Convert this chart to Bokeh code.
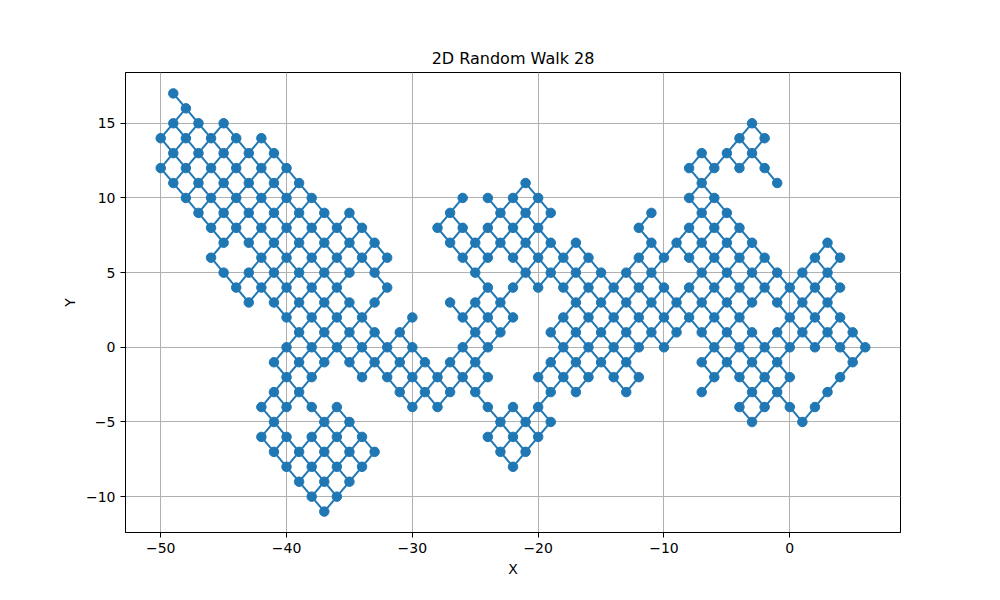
from bokeh.plotting import figure
from bokeh.models import Range1d, FixedTicker
from bokeh.embed import file_html
from bokeh.resources import INLINE

# visited lattice points of the walk, one list of x values per y level
row_p17 = [-49]
row_p16 = [-48]
row_p15 = [-49, -47, -45, -3]
row_p14 = [-50, -48, -46, -44, -42, -4, -2]
row_p13 = [-49, -47, -45, -43, -41, -7, -5, -3]
row_p12 = [-50, -48, -46, -44, -42, -40, -8, -6, -4, -2]
row_p11 = [-49, -47, -45, -43, -41, -39, -21, -7, -1]
row_p10 = [-48, -46, -44, -42, -40, -38, -26, -24, -22, -20, -8, -6]
row_p9 = [-47, -45, -43, -41, -39, -37, -35, -27, -23, -21, -19, -11, -7, -5]
row_p8 = [-46, -44, -42, -40, -38, -36, -34, -28, -26, -24, -22, -20, -12, -8, -6, -4]
row_p7 = [-45, -43, -41, -39, -37, -35, -33, -27, -25, -23, -21, -19, -17, -11, -9, -7, -5, -3, 3]
row_p6 = [-46, -42, -40, -38, -36, -34, -32, -26, -24, -22, -20, -18, -16, -12, -10, -8, -6, -4, -2, 2, 4]
row_p5 = [-45, -43, -41, -39, -37, -35, -33, -25, -21, -19, -17, -15, -13, -11, -7, -5, -3, -1, 1, 3]
row_p4 = [-44, -42, -40, -38, -36, -32, -24, -22, -20, -18, -16, -14, -12, -10, -8, -6, -4, -2, 0, 2, 4]
row_p3 = [-43, -41, -39, -37, -35, -33, -27, -25, -23, -17, -15, -13, -11, -9, -7, -5, -3, -1, 1, 3]
row_p2 = [-40, -38, -36, -34, -30, -26, -24, -22, -18, -16, -14, -12, -10, -8, -6, -4, 0, 2, 4]
row_p1 = [-39, -37, -35, -33, -31, -25, -23, -19, -17, -15, -13, -11, -9, -7, -5, -3, -1, 1, 3, 5]
row_0 = [-40, -38, -36, -34, -32, -30, -26, -24, -18, -16, -14, -12, -10, -6, -4, -2, 0, 2, 4, 6]
row_m1 = [-41, -39, -37, -35, -33, -31, -29, -27, -25, -19, -17, -15, -13, -7, -5, -3, -1, 5]
row_m2 = [-40, -38, -34, -32, -30, -28, -26, -24, -20, -18, -16, -14, -12, -6, -4, -2, 0, 4]
row_m3 = [-41, -39, -31, -29, -27, -25, -19, -17, -13, -7, -3, -1, 3]
row_m4 = [-42, -40, -38, -36, -30, -28, -24, -22, -20, -4, -2, 0, 2]
row_m5 = [-41, -37, -35, -23, -21, -19, -3, 1]
row_m6 = [-42, -40, -38, -36, -34, -24, -22, -20]
row_m7 = [-41, -39, -37, -35, -33, -23, -21]
row_m8 = [-40, -38, -36, -34, -22]
row_m9 = [-39, -37, -35]
row_m10 = [-38, -36]
row_m11 = [-37]

row_levels = list(range(17, -12, -1))
rows = [row_p17, row_p16, row_p15, row_p14, row_p13, row_p12, row_p11, row_p10,
        row_p9, row_p8, row_p7, row_p6, row_p5, row_p4, row_p3, row_p2, row_p1,
        row_0, row_m1, row_m2, row_m3, row_m4, row_m5, row_m6, row_m7, row_m8,
        row_m9, row_m10, row_m11]

x_ticks = [-50, -40, -30, -20, -10, 0]
x_tick_labels = ["\u221250", "\u221240", "\u221230", "\u221220", "\u221210", "0"]
y_ticks = [-10, -5, 0, 5, 10, 15]
y_tick_labels = ["\u221210", "\u22125", "0", "5", "10", "15"]

pts_x, pts_y = [], []
for yv, xs in zip(row_levels, rows):
    for xv in xs:
        pts_x.append(xv)
        pts_y.append(yv)

# steps of the walk: diagonal neighbours among the visited points
visited = set(zip(pts_x, pts_y))
sx0, sy0, sx1, sy1 = [], [], [], []
for a, b in sorted(visited):
    for db in (1, -1):
        if (a + 1, b + db) in visited:
            sx0.append(a)
            sy0.append(b)
            sx1.append(a + 1)
            sy1.append(b + db)

blue = "#1f77b4"
font = "DejaVu Sans"

p = figure(width=984, height=584, output_backend="svg", toolbar_location=None,
           x_range=Range1d(-52.8, 8.8), y_range=Range1d(-12.4, 18.4),
           min_border_left=125, min_border_right=84,
           min_border_top=72, min_border_bottom=52)

p.segment(sx0, sy0, sx1, sy1, line_color=blue, line_width=2)
p.scatter(pts_x, pts_y, size=9.5, color=blue)

p.title.text = "2D Random Walk 28"
p.title.align = "center"
p.title.text_font = font
p.title.text_font_size = "16px"
p.title.text_font_style = "normal"
p.title.text_color = "black"

p.xaxis.axis_label = "X"
p.yaxis.axis_label = "Y"
p.xaxis.ticker = FixedTicker(ticks=x_ticks)
p.yaxis.ticker = FixedTicker(ticks=y_ticks)
p.xaxis.major_label_overrides = dict(zip(x_ticks, x_tick_labels))
p.yaxis.major_label_overrides = dict(zip(y_ticks, y_tick_labels))

for ax in (p.xaxis, p.yaxis):
    ax.axis_label_text_font = font
    ax.axis_label_text_font_size = "14px"
    ax.axis_label_text_font_style = "normal"
    ax.axis_label_text_color = "black"
    ax.major_label_text_font = font
    ax.major_label_text_font_size = "14px"
    ax.major_label_text_color = "black"
    ax.axis_line_color = "black"
    ax.major_tick_line_color = "black"
    ax.major_tick_out = 5
    ax.major_tick_in = 0
    ax.minor_tick_line_color = None

p.grid.grid_line_color = "#b0b0b0"
p.grid.grid_line_width = 1
p.outline_line_color = "black"
p.outline_line_alpha = 1
p.background_fill_color = "white"
p.border_fill_color = "white"

open("out.html", "w").write(file_html(p, INLINE))
